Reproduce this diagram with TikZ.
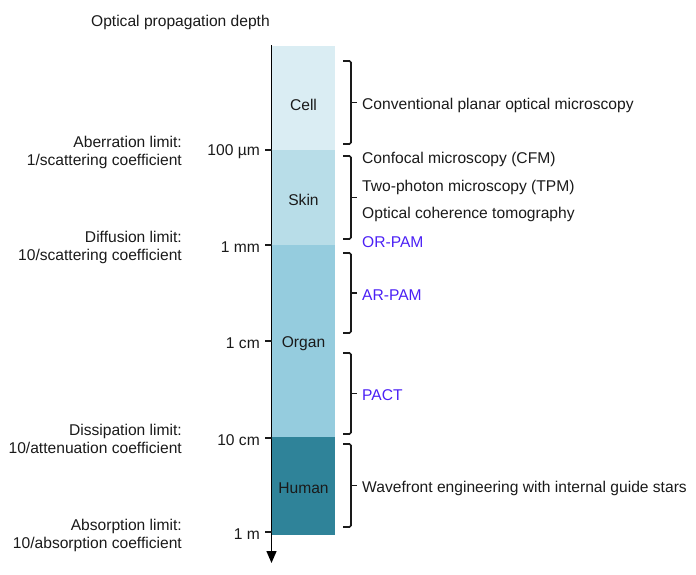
\documentclass[tikz,border=0pt]{standalone}
\usepackage{fontspec}
\setmainfont{Liberation Sans}
\usetikzlibrary{arrows.meta}
\usetikzlibrary{positioning}
\definecolor{dpcell}{HTML}{DAEDF3}
\definecolor{dpskin}{HTML}{B8DDE8}
\definecolor{dporgan}{HTML}{95CCDE}
\definecolor{dphuman}{HTML}{2F8399}
\definecolor{dpink}{HTML}{1A1A1A}
\definecolor{dppam}{HTML}{4B20F5}
\tikzset{
  dplayer/.style={minimum width=63pt, inner sep=0pt, outer sep=0pt},
  dptext/.style={font=\fontsize{15.6}{18}\selectfont, text=dpink,
    inner sep=0pt, yshift=-2pt},
  dpmethod/.style={dptext, anchor=west},
  dppamtext/.style={dpmethod, text=dppam},
  dpdepth/.style={dptext, anchor=east},
  dplimit/.style={dptext, anchor=east, align=right},
  dptick/.style={draw=dpink, line width=1.4pt},
  dpbrace/.style={draw=dpink, line width=1.7pt, rounded corners=1.5pt},
  dpaxis/.style={-{Triangle[width=10pt, length=12pt]}, draw=black,
    line width=1.4pt},
}

\begin{document}
\begin{tikzpicture}[x=1pt, y=-1pt]
\useasboundingbox (0, 0) rectangle (696, 574);

% Header.
\node[dptext, anchor=east] (header) at (270, 20) {Optical propagation depth};

% Tissue layers.
\foreach \name/\fillc/\top/\bot in {%
    cell/dpcell/46/150,
    skin/dpskin/150/245,
    organ/dporgan/245/437,
    human/dphuman/437/535} {
  \node[dplayer, fill=\fillc, minimum height={(\bot-\top)*1pt}]
    (\name) at (303.5, {(\top+\bot)/2}) {};
}
\node[dptext] (celltag) at (303.5, 103) {Cell};
\node[dptext] (skintag) at (303.5, 198) {Skin};
\node[dptext] (organtag) at (303.5, 342) {Organ};
\node[dptext] (humantag) at (303.5, 486) {Human};

% Depth axis and ticks.
\coordinate (axistop) at (271.5, 45);
\coordinate (axisend) at (271.5, 563);
\draw[dpaxis] (axistop) -- (axisend);
\foreach \y/\depth [count=\i] in {%
    150/100 µm, 245/1 mm, 341/1 cm, 438/10 cm, 532/1 m} {
  \node[dpdepth] (depth\i) at (260, \y) {\depth};
  \draw[dptick] (265, \y) -- (271.5, \y);
}

% Physical limits.
\node[dplimit] (aberration) at (182, 150)
  {Aberration limit:\\1/scattering coefficient};
\node[dplimit] (diffusion) at (182, 245)
  {Diffusion limit:\\10/scattering coefficient};
\node[dplimit] (dissipation) at (182, 437)
  {Dissipation limit:\\10/attenuation coefficient};
\node[dplimit] (absorption) at (182, 533)
  {Absorption limit:\\10/absorption coefficient};

% Braces.
\foreach \top/\bot in {61/144, 156/239, 253/333, 353/434, 444/527} {
  \draw[dpbrace] (343, \top) -- (351, \top) -- (351, \bot) -- (343, \bot);
  \draw[dptick] (351, {(\top+\bot)/2}) -- (357, {(\top+\bot)/2});
}

% Imaging methods.
\node[dpmethod] (planar) at (362, 103)
  {Conventional planar optical microscopy};
\node[dpmethod] (cfm) at (362, 157) {Confocal microscopy (CFM)};
\node[dpmethod] (tpm) at (362, 185) {Two-photon microscopy (TPM)};
\node[dpmethod] (oct) at (362, 212) {Optical coherence tomography};
\node[dppamtext] (orpam) at (362, 240) {OR-PAM};
\node[dppamtext] (arpam) at (362, 293) {AR-PAM};
\node[dppamtext] (pact) at (362, 393) {PACT};
\node[dpmethod] (wavefront) at (362, 486)
  {Wavefront engineering with internal guide stars};

\end{tikzpicture}
\end{document}
